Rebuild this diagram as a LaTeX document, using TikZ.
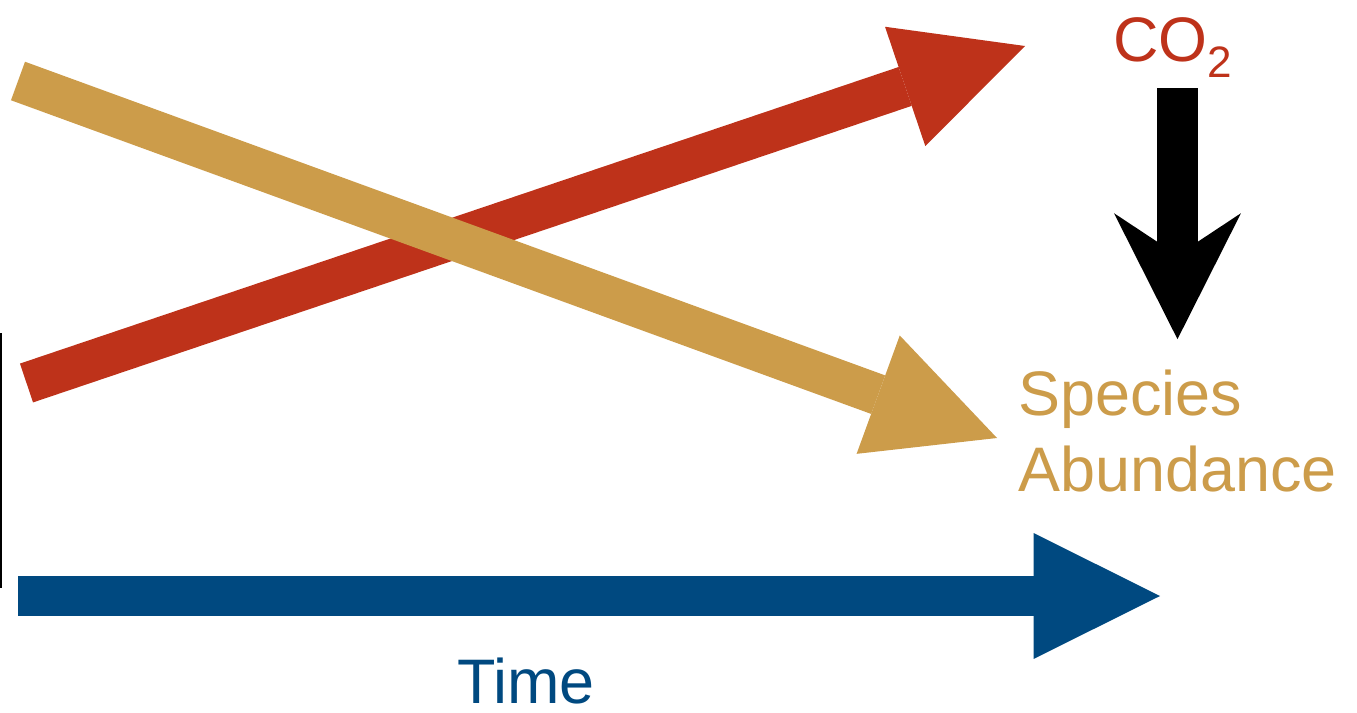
\documentclass[tikz,border=0pt]{standalone}
\usepackage{fontspec}
\setmainfont{Liberation Sans}
\usetikzlibrary{arrows.meta,calc}
\definecolor{co2red}{RGB}{190,50,26}
\definecolor{speciesgold}{RGB}{204,156,74}
\definecolor{timeblue}{RGB}{0,73,128}

\begin{document}
\begin{tikzpicture}[x=0.02cm,y=-0.02cm,
    fatarrow/.style={line width=0.82cm,-{Triangle[length=2.53cm,width=2.52cm,line width=0pt]}},
    sinkarrow/.style={line width=0.82cm,-{Stealth[length=2.52cm,width=2.54cm,inset=0.84cm,line width=0pt]}},
    bigtext/.style={inner sep=0pt,font=\fontsize{35.8}{43.2}\selectfont}]
    \useasboundingbox (0,0) rectangle (1357,713);

    \coordinate (co2start) at (26.5,383);
    \coordinate (co2end) at (1025,46);
    \coordinate (abstart) at (18,81);
    \coordinate (abend) at (997,438);
    \coordinate (timestart) at (18,596);
    \coordinate (timeend) at (1160,596);

    \draw[line width=0.04cm] (1,333) -- (1,588);

    \draw[fatarrow,co2red] (co2start) -- (co2end);
    \draw[fatarrow,speciesgold] (abstart) -- (abend);
    \draw[fatarrow,timeblue] (timestart) -- (timeend);

    \node[bigtext,co2red,anchor=base west] (co2) at (1113,62) {CO\textsubscript{2}};
    \node[bigtext,speciesgold,anchor=base west,align=left] (abund) at (1018,491) {Species\\Abundance};
    \node[bigtext,timeblue,anchor=base west] (time) at (457,703) {Time};

    \draw[sinkarrow] ($(co2.south -| abund.north)+(0,10)$) -- ($(abund.north)+(0,-30)$);
\end{tikzpicture}
\end{document}
